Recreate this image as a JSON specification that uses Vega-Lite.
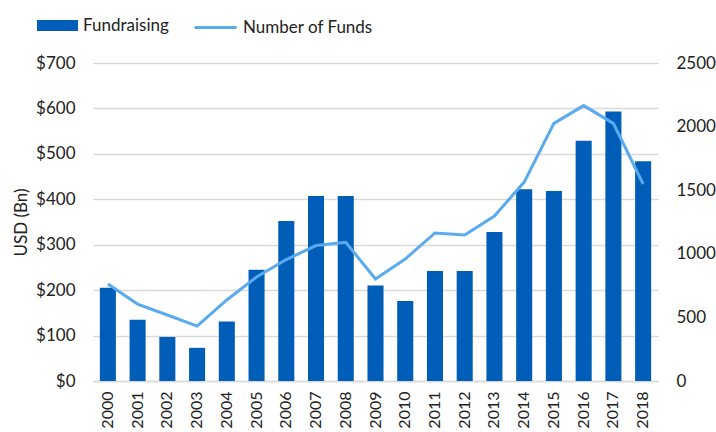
{
  "$schema": "https://vega.github.io/schema/vega-lite/v6.json",
  "width": 565,
  "height": 318,
  "autosize": {"type": "none"},
  "padding": {"left": 93, "top": 63, "right": 58, "bottom": 51},
  "config": {
    "font": "Lato",
    "view": {"stroke": null},
    "axis": {"labelFont": "Lato", "labelFontSize": 17, "labelColor": "#222222", "titleFont": "Lato", "titleFontSize": 17, "titleColor": "#222222", "titleFontWeight": "normal"},
    "legend": {"labelFont": "Lato", "labelFontSize": 17, "labelColor": "#222222"}
  },
  "data": {
    "values": [
      {"year": "2000", "fund": 205, "num": 762},
      {"year": "2001", "fund": 135, "num": 605},
      {"year": "2002", "fund": 97, "num": 519},
      {"year": "2003", "fund": 73, "num": 432},
      {"year": "2004", "fund": 131, "num": 637},
      {"year": "2005", "fund": 245, "num": 818},
      {"year": "2006", "fund": 352, "num": 955},
      {"year": "2007", "fund": 407, "num": 1065},
      {"year": "2008", "fund": 407, "num": 1090},
      {"year": "2009", "fund": 210, "num": 802},
      {"year": "2010", "fund": 176, "num": 959},
      {"year": "2011", "fund": 242, "num": 1164},
      {"year": "2012", "fund": 242, "num": 1148},
      {"year": "2013", "fund": 328, "num": 1297},
      {"year": "2014", "fund": 422, "num": 1564},
      {"year": "2015", "fund": 418, "num": 2025},
      {"year": "2016", "fund": 529, "num": 2165},
      {"year": "2017", "fund": 593, "num": 2025},
      {"year": "2018", "fund": 484, "num": 1549}
    ]
  },
  "encoding": {
    "x": {
      "field": "year", "type": "ordinal",
      "scale": {"paddingInner": 0.46, "paddingOuter": 0.23},
      "axis": {"title": null, "labelAngle": -90, "labelPadding": 10, "labelFontSize": 16, "ticks": false, "domainColor": "#d9d9d9", "domainWidth": 1.5, "grid": false, "labelBaseline": "middle", "labelAlign": "right"}
    }
  },
  "layer": [
    {
      "mark": {"type": "bar"},
      "encoding": {
        "y": {
          "field": "fund", "type": "quantitative",
          "scale": {"domain": [0, 700]},
          "axis": {"title": "USD (Bn)", "titlePadding": 5, "values": [0,100,200,300,400,500,600,700], "labelExpr": "'$' + datum.value", "ticks": false, "domain": false, "labelPadding": 18, "gridColor": "#d9d9d9", "gridWidth": 1.5}
        },
        "color": {
          "datum": "Fundraising",
          "scale": {"range": ["#005eb8"]},
          "legend": {"title": null, "orient": "none", "legendX": -56, "legendY": -58, "symbolType": "M-1,-0.27H1V0.27H-1Z", "symbolSize": 1681, "symbolStrokeWidth": 0, "labelOffset": 5}
        }
      }
    },
    {
      "mark": {"type": "line", "strokeWidth": 3},
      "encoding": {
        "y": {
          "field": "num", "type": "quantitative",
          "scale": {"domain": [0, 2500]},
          "axis": {"title": null, "orient": "right", "format": "d", "values": [0,500,1000,1500,2000,2500], "ticks": false, "domain": false, "grid": false, "labelPadding": 18}
        },
        "color": {
          "datum": "Number of Funds",
          "scale": {"range": ["#5aaaee"]},
          "legend": {"title": null, "orient": "none", "legendX": 100, "legendY": -58, "symbolType": "stroke", "symbolSize": 1764, "symbolStrokeWidth": 3, "labelOffset": 5}
        }
      }
    }
  ],
  "resolve": {"scale": {"y": "independent", "color": "independent"}}
}
